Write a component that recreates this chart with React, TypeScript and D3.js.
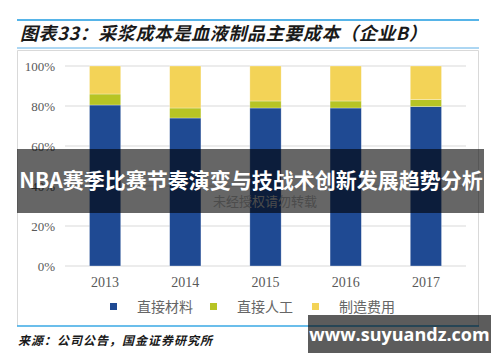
import React, { useEffect, useRef } from 'react';
import * as d3 from 'd3';

const years = ['2013', '2014', '2015', '2016', '2017'];
const seriesNames = ['直接材料', '直接人工', '制造费用'];
const material = [80.5, 74, 79, 79, 79.7];
const labor = [5.5, 5, 3.5, 3.5, 3.5];
const overhead = [14, 21, 17.5, 17.5, 16.8];
const colors = ['#1f4a93', '#b7c424', '#f3d357'];
const yTicks = [0, 20, 40, 60, 80, 100];

const App = () => {
  const svgRef = useRef(null);

  useEffect(() => {
    const svg = d3.select(svgRef.current);
    svg.selectAll('*').remove();

    const width = 500;
    const height = 362;
    const cjk = '"Noto Sans CJK SC", sans-serif';
    const serif = '"Liberation Serif", "DejaVu Serif", serif';

    svg.attr('width', width).attr('height', height);

    // title lines
    svg.append('line').attr('x1', 17).attr('x2', 479).attr('y1', 20).attr('y2', 20)
      .attr('stroke', '#1e9be0').attr('stroke-width', 1.5);
    svg.append('line').attr('x1', 17).attr('x2', 479).attr('y1', 48).attr('y2', 48)
      .attr('stroke', '#5aaee6').attr('stroke-width', 1);
    svg.append('text').attr('x', 20).attr('y', 40)
      .attr('font-family', cjk).attr('font-size', 18).attr('font-weight', 'bold')
      .attr('font-style', 'italic').attr('fill', '#1a1a1a').attr('letter-spacing', 0.6)
      .text('图表33：采浆成本是血液制品主要成本（企业B）');

    // frame
    svg.append('path').attr('d', 'M17.5,326 V50.5 H478.5 V326')
      .attr('fill', 'none').attr('stroke', '#d9d9d9');
    svg.append('line').attr('x1', 17).attr('x2', 479).attr('y1', 326).attr('y2', 326)
      .attr('stroke', '#3aa8e4').attr('stroke-width', 1.5);

    const x = d3.scaleBand().domain(years).range([65, 466]).paddingInner(0.61).paddingOuter(0.305);
    const y = d3.scaleLinear().domain([0, 100]).range([266, 66]);

    // gridlines
    svg.append('g').selectAll('line').data(yTicks).join('line')
      .attr('x1', 65).attr('x2', 466)
      .attr('y1', d => y(d)).attr('y2', d => y(d))
      .attr('stroke', '#d9d9d9').attr('stroke-width', 1);

    svg.append('g').selectAll('text').data(yTicks).join('text')
      .attr('x', 55).attr('y', d => y(d)).attr('dy', '0.35em')
      .attr('text-anchor', 'end').attr('font-family', serif).attr('font-size', 13)
      .attr('fill', '#595959').text(d => `${d}%`);

    const table = years.map((yr, i) => ({ year: yr, 直接材料: material[i], 直接人工: labor[i], 制造费用: overhead[i] }));
    const stacked = d3.stack().keys(seriesNames)(table as any);

    svg.append('g').selectAll('g').data(stacked).join('g')
      .attr('fill', (_d, i) => colors[i])
      .selectAll('rect').data(d => d).join('rect')
      .attr('x', d => x((d.data as any).year) as number)
      .attr('width', x.bandwidth())
      .attr('y', d => y(d[1]))
      .attr('height', d => y(d[0]) - y(d[1]))
      .attr('stroke', '#ffffff').attr('stroke-opacity', 0.5).attr('stroke-width', 0.6);

    svg.append('g').selectAll('text').data(years).join('text')
      .attr('x', d => (x(d) as number) + x.bandwidth() / 2).attr('y', 287)
      .attr('text-anchor', 'middle').attr('font-family', serif).attr('font-size', 14)
      .attr('fill', '#595959').text(d => d);

    // legend
    const legendX = [110, 210, 312];
    const lg = svg.append('g').selectAll('g').data(seriesNames).join('g')
      .attr('transform', (_d, i) => `translate(${legendX[i]},307)`);
    lg.append('rect').attr('x', 0).attr('y', -4).attr('width', 7).attr('height', 7)
      .attr('fill', (_d, i) => colors[i]);
    lg.append('text').attr('x', 27).attr('y', 0).attr('dy', '0.35em')
      .attr('font-family', cjk).attr('font-size', 14).attr('fill', '#666666')
      .text(d => d);

    // source
    svg.append('text').attr('x', 18).attr('y', 345)
      .attr('font-family', cjk).attr('font-size', 12).attr('font-weight', 'bold')
      .attr('font-style', 'italic').attr('fill', '#1a1a1a').attr('letter-spacing', 1)
      .text('来源：公司公告，国金证券研究所');

    // faint watermark beneath banner
    svg.append('text').attr('x', 265).attr('y', 201).attr('dy', '0.35em')
      .attr('text-anchor', 'middle').attr('font-family', cjk).attr('font-size', 13)
      .attr('fill', '#bdbdbd').text('未经授权请勿转载');

    // banner overlay
    svg.append('rect').attr('x', 17).attr('y', 149).attr('width', 467).attr('height', 64)
      .attr('fill', '#000').attr('fill-opacity', 0.6);
    svg.append('text').attr('x', 251).attr('y', 181).attr('dy', '0.35em')
      .attr('text-anchor', 'middle').attr('font-family', cjk).attr('font-size', 21)
      .attr('font-weight', 'bold').attr('fill', '#ffffff')
      .text('NBA赛季比赛节奏演变与技战术创新发展趋势分析');

    // site watermark
    svg.append('rect').attr('x', 308).attr('y', 315).attr('width', 183).attr('height', 38)
      .attr('fill', '#000').attr('fill-opacity', 0.64);
    svg.append('text').attr('x', 399.5).attr('y', 335).attr('dy', '0.35em')
      .attr('text-anchor', 'middle').attr('font-family', '"Open Sans", sans-serif').attr('font-size', 18)
      .attr('font-weight', 'bold').attr('fill', '#ffffff')
      .text('www.suyuandz.com');
  }, []);

  return <svg ref={svgRef} style={{ position: 'absolute', left: 0, top: 0 }}></svg>;
};

export default App;
